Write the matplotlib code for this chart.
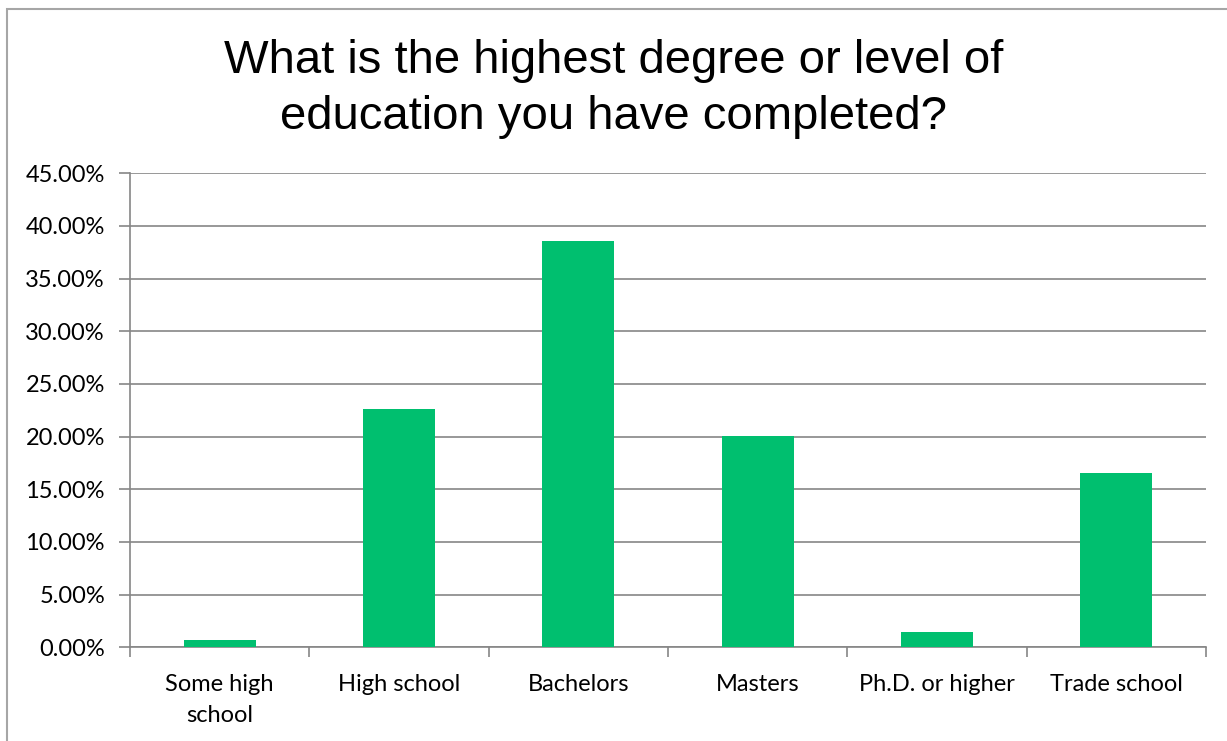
import matplotlib
matplotlib.use("Agg")
import matplotlib.pyplot as plt
from matplotlib.patches import Rectangle
from matplotlib.ticker import FuncFormatter, MultipleLocator

categories = ["Some high\nschool", "High school", "Bachelors", "Masters",
              "Ph.D. or higher", "Trade school"]
shares = [0.66, 22.6, 38.6, 20.1, 1.45, 16.5]
title = "What is the highest degree or level of\neducation you have completed?"

W, H = 1227, 741
fig = plt.figure(figsize=(W / 100, H / 100), dpi=100)
fig.patch.set_facecolor("white")

# chart frame (runs off the right and bottom edges)
fig.patches.append(Rectangle((7 / W, -0.05), 1.2, 1 - 9 / H + 0.05,
                             transform=fig.transFigure, fill=False,
                             edgecolor="#a6a6a6", linewidth=1.5))

ax = fig.add_axes([130 / W, (H - 647.3) / H, (1206 - 130) / W, (647.3 - 173.3) / H])

x = list(range(len(categories)))
ax.bar(x, shares, width=0.4, color="#00bf6f", zorder=3)

ax.set_xlim(-0.5, len(categories) - 0.5)
ax.set_ylim(0, 45)
ax.yaxis.set_major_locator(MultipleLocator(5))
ax.yaxis.set_major_formatter(FuncFormatter(lambda v, p: f"{v:.2f}%"))
ax.grid(axis="y", color="#868686", linewidth=1.2, zorder=0)

for s in ["top", "right"]:
    ax.spines[s].set_visible(False)
for s in ["left", "bottom"]:
    ax.spines[s].set_color("#868686")
    ax.spines[s].set_linewidth(1.2)

ax.set_xticks(x)
ax.set_xticklabels(categories, fontfamily="Lato", fontsize=17, linespacing=1.6)
ax.set_xticks([i - 0.5 for i in range(len(categories) + 1)], minor=True)
ax.tick_params(axis="x", which="major", length=0, pad=19)
ax.tick_params(axis="x", which="minor", length=7, width=1.2, color="#868686",
               direction="out")
ax.tick_params(axis="y", length=8, width=1.2, color="#868686", pad=10)
for lbl in ax.get_yticklabels():
    lbl.set_fontfamily("Lato")
    lbl.set_fontsize(17)

fig.text(0.5, 1 - 89 / H, title, ha="center", va="center",
         fontfamily="Liberation Sans", fontsize=34, linespacing=1.38)

fig.savefig("out.png", dpi=100, facecolor="white")
